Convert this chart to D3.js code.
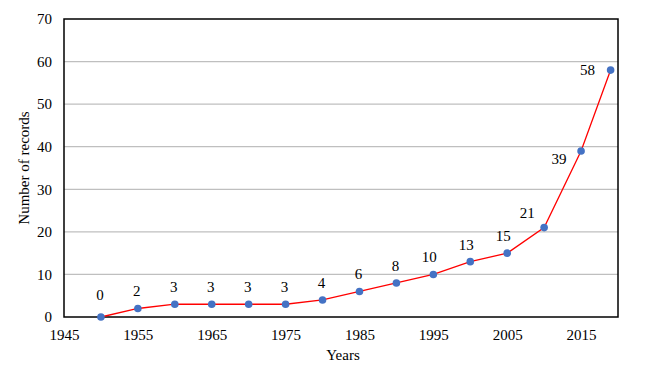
<!DOCTYPE html>
<html>
<head>
<meta charset="utf-8">
<script src="https://cdn.jsdelivr.net/npm/d3@7"></script>
<style>
  body { margin: 0; background: #fff; }
  svg text { font-family: "Liberation Serif", "Times New Roman", serif !important; fill: #000; }
</style>
</head>
<body>
<svg id="chart" width="650" height="373"></svg>
<script>
let years = [1950, 1955, 1960, 1965, 1970, 1975, 1980, 1985, 1990, 1995, 2000, 2005, 2010, 2015, 2019];
let records = [0, 2, 3, 3, 3, 3, 4, 6, 8, 10, 13, 15, 21, 39, 58];
let xTicks = [1945, 1955, 1965, 1975, 1985, 1995, 2005, 2015];
let yTicks = [0, 10, 20, 30, 40, 50, 60, 70];

let svg = d3.select("#chart");
let plotLeft = 64, plotRight = 618, plotTop = 19, plotBottom = 317;

let x = d3.scaleLinear().domain([1945, 2020]).range([plotLeft, plotRight]);
let y = d3.scaleLinear().domain([0, 70]).range([plotBottom, plotTop]);

let data = years.map(function (d, i) {
  return { year: d, value: records[i] };
});

// gridlines
svg.append("g")
  .selectAll("line")
  .data(yTicks.slice(1, -1))
  .enter()
  .append("line")
  .attr("x1", plotLeft)
  .attr("x2", plotRight)
  .attr("y1", function (d) { return y(d); })
  .attr("y2", function (d) { return y(d); })
  .attr("stroke", "#bfbfbf")
  .attr("stroke-width", 1.3);

// frame
svg.append("rect")
  .attr("x", plotLeft)
  .attr("y", plotTop)
  .attr("width", plotRight - plotLeft)
  .attr("height", plotBottom - plotTop)
  .attr("fill", "none")
  .attr("stroke", "#000")
  .attr("stroke-width", 1.5);

// y axis
let yAxis = svg.append("g")
  .attr("transform", `translate(${plotLeft},0)`)
  .call(d3.axisLeft(y).tickValues(yTicks).tickSize(0).tickPadding(12));
yAxis.select(".domain").remove();
yAxis.attr("font-family", null).attr("font-size", null);
yAxis.selectAll("text").style("font-size", "15px");

// x axis
let xAxis = svg.append("g")
  .attr("transform", `translate(0,${plotBottom})`)
  .call(d3.axisBottom(x).tickValues(xTicks).tickFormat(d3.format("d")).tickSize(0).tickPadding(12));
xAxis.select(".domain").remove();
xAxis.attr("font-family", null).attr("font-size", null);
xAxis.selectAll("text").style("font-size", "15px");

// axis titles
svg.append("text")
  .attr("x", 343)
  .attr("y", 360)
  .attr("text-anchor", "middle")
  .style("font-size", "15px")
  .text("Years");

svg.append("text")
  .attr("transform", "translate(29,168) rotate(-90)")
  .attr("text-anchor", "middle")
  .style("font-size", "15px")
  .text("Number of records");

// line
let line = d3.line()
  .x(function (d) { return x(d.year); })
  .y(function (d) { return y(d.value); });

svg.append("path")
  .datum(data)
  .attr("d", line)
  .attr("fill", "none")
  .attr("stroke", "#ff0000")
  .attr("stroke-width", 1.3);

// markers
svg.append("g")
  .selectAll("circle")
  .data(data)
  .enter()
  .append("circle")
  .attr("cx", function (d) { return x(d.year); })
  .attr("cy", function (d) { return y(d.value); })
  .attr("r", 3.8)
  .attr("fill", "#4472c4");

// data labels
let n = data.length;
svg.append("g")
  .selectAll("text")
  .data(data)
  .enter()
  .append("text")
  .attr("x", function (d, i) {
    if (i == n - 1) return x(d.year) - 23;
    if (i == n - 2) return x(d.year) - 22;
    if (i == n - 3) return x(d.year) - 17;
    return x(d.year) - (d.value >= 10 ? 4 : 1);
  })
  .attr("y", function (d, i) {
    if (i == n - 1) return y(d.value) + 5;
    if (i == n - 2) return y(d.value) + 13;
    if (i == n - 3) return y(d.value) - 10;
    if (i == 0) return y(d.value) - 17;
    return y(d.value) - 12;
  })
  .attr("text-anchor", "middle")
  .style("font-size", "15px")
  .text(function (d) { return d.value; });
</script>
</body>
</html>
